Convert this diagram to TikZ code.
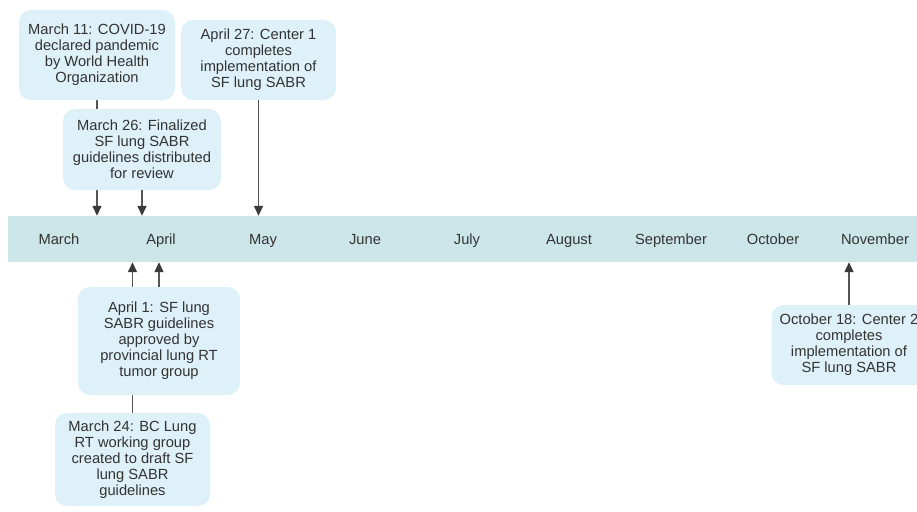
\documentclass[tikz,border=0pt]{standalone}
\usepackage{fontspec}
\setmainfont{Liberation Sans}
\usetikzlibrary{arrows.meta}
\definecolor{bandcol}{HTML}{CCE5E8}
\definecolor{boxcol}{HTML}{DEF0F8}
\definecolor{txtcol}{HTML}{333333}
\definecolor{linecol}{HTML}{555555}
\definecolor{headcol}{HTML}{3A3A3A}
\pgfdeclarelayer{bg}
\pgfsetlayers{bg,main}
\tikzset{
  evbox/.style={fill=boxcol, draw=none, rounded corners=12pt, align=center,
    text=txtcol, font=\fontsize{14.7}{16}\selectfont, inner sep=0pt},
  month/.style={text=txtcol, font=\fontsize{14.7}{16}\selectfont, inner sep=0pt, anchor=base},
  conn/.style={draw=linecol, line width=1.4pt,
    -{Triangle[length=10pt,width=9pt,fill=headcol,color=headcol]}},
}
\begin{document}
\begin{tikzpicture}[x=1pt,y=-1pt]
\useasboundingbox (0,0) rectangle (917,511);
% band
\node[fill=bandcol, minimum width=922pt, minimum height=46pt, inner sep=0pt] (band) at (469,239) {};
% months
\node[month] (m3) at (59,244.5) {March};
\node[month] (m4) at (161,244.5) {April};
\node[month] (m5) at (263,244.5) {May};
\node[month] (m6) at (365,244.5) {June};
\node[month] (m7) at (467,244.5) {July};
\node[month] (m8) at (569,244.5) {August};
\node[month] (m9) at (671,244.5) {September};
\node[month] (m10) at (773,244.5) {October};
\node[month] (m11) at (875,244.5) {November};
% boxes
\node[evbox, minimum width=156pt, minimum height=90pt] (b1) at (97,55)
  {March 11: COVID-19\\declared pandemic\\by World Health\\Organization};
\node[evbox, minimum width=155pt, minimum height=80pt] (b2) at (258.5,60)
  {April 27: Center 1\\completes\\implementation of\\SF lung SABR};
\node[evbox, minimum width=158pt, minimum height=81pt] (b3) at (142,149.5)
  {March 26: Finalized\\SF lung SABR\\guidelines distributed\\for review};
\node[evbox, minimum width=162pt, minimum height=108pt] (b4) at (159,341)
  {April 1: SF lung\\SABR guidelines\\approved by\\provincial lung RT\\tumor group};
\node[evbox, minimum width=155pt, minimum height=93pt] (b5) at (132.5,459.5)
  {March 24: BC Lung\\RT working group\\created to draft SF\\lung SABR\\guidelines};
\node[evbox, minimum width=155pt, minimum height=80pt] (b6) at (849,345)
  {October 18: Center 2\\completes\\implementation of\\SF lung SABR};
% connectors
\begin{pgfonlayer}{bg}
\draw[conn] (b1.south) -- (b1.south |- band.north);
\draw[conn] (b5.north) -- (b5.north |- band.south);
\end{pgfonlayer}
\draw[conn] (b3.south) -- (b3.south |- band.north);
\draw[conn] (b2.south) -- (b2.south |- band.north);
\draw[conn] (b4.north) -- (b4.north |- band.south);
\draw[conn] (b6.north) -- (b6.north |- band.south);
\end{tikzpicture}
\end{document}
